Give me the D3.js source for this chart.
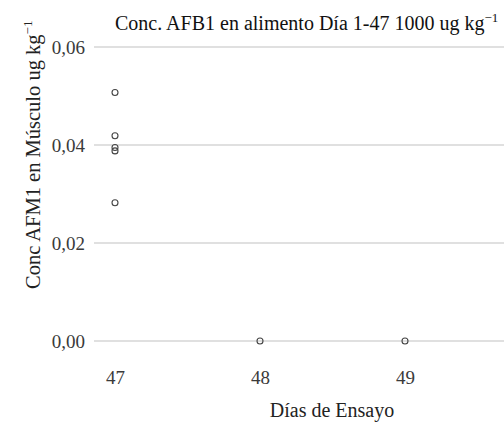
<!DOCTYPE html>
<html>
<head>
<meta charset="utf-8">
<script src="https://cdn.jsdelivr.net/npm/d3@7"></script>
</head>
<body style="margin:0;padding:0;background:#fff">
<svg id="chart" width="504" height="425" style="display:block"></svg>
<script>
// Muscle AFM1 concentration by trial day
const days = [47, 47, 47, 47, 47, 48, 49];
const concValues = [0.0507, 0.0419, 0.0395, 0.0388, 0.0282, 0, 0];
const xTicks = [47, 48, 49];
const yTicks = [0, 0.02, 0.04, 0.06];

const SERIF = "Liberation Serif";

const svg = d3.select("#chart");
const margin = { left: 94, top: 47, bottom: 341 };
const plotRight = 570;

const x = d3.scaleLinear().domain([47, 49]).range([115, 405]);
const y = d3.scaleLinear().domain([0, 0.06]).range([341, 47]);

const fmt = v => d3.format(".2f")(v).replace(".", ",");

// horizontal grid
svg.append("g").selectAll("line").data(yTicks).join("line")
  .attr("x1", margin.left).attr("x2", plotRight)
  .attr("y1", d => y(d)).attr("y2", d => y(d))
  .attr("stroke", "#d6d6d6").attr("stroke-width", 1.4);

// y axis tick labels
const yAxis = d3.axisLeft(y).tickValues(yTicks).tickFormat(fmt).tickSize(0).tickPadding(9);
const gy = svg.append("g").attr("transform", `translate(${margin.left},0)`).call(yAxis);
gy.attr("font-family", SERIF);
gy.select(".domain").remove();
gy.selectAll("text").attr("font-family", SERIF).attr("font-size", 19).attr("fill", "#3a3a3a");

// x axis tick labels
const xAxis = d3.axisBottom(x).tickValues(xTicks).tickFormat(d3.format("d")).tickSize(0).tickPadding(30);
const gx = svg.append("g").attr("transform", `translate(0,${margin.bottom})`).call(xAxis);
gx.attr("font-family", SERIF);
gx.select(".domain").remove();
gx.selectAll("text").attr("font-family", SERIF).attr("font-size", 19).attr("fill", "#3a3a3a");

// points
svg.append("g").selectAll("circle").data(days.map((d, i) => [d, concValues[i]])).join("circle")
  .attr("cx", d => x(d[0])).attr("cy", d => y(d[1])).attr("r", 3)
  .attr("fill", "none").attr("stroke", "#444").attr("stroke-width", 1.1);

// title
const title = svg.append("text").attr("x", 115).attr("y", 30)
  .attr("font-family", SERIF).attr("font-size", 20).attr("fill", "#111");
title.append("tspan").text("Conc. AFB1 en alimento Día 1-47 1000 ug kg");
title.append("tspan").attr("dy", -8).attr("font-size", 13).text("−1");

// x axis title
svg.append("text").attr("x", 332).attr("y", 417).attr("text-anchor", "middle")
  .attr("font-family", SERIF).attr("font-size", 20).attr("fill", "#222").text("Días de Ensayo");

// y axis title
const yt = svg.append("text").attr("transform", "translate(40,289) rotate(-90)")
  .attr("font-family", SERIF).attr("font-size", 20.5).attr("fill", "#222");
yt.append("tspan").text("Conc AFM1 en Músculo ug kg");
yt.append("tspan").attr("dy", -8).attr("font-size", 13).text("−1");
</script>
</body>
</html>
